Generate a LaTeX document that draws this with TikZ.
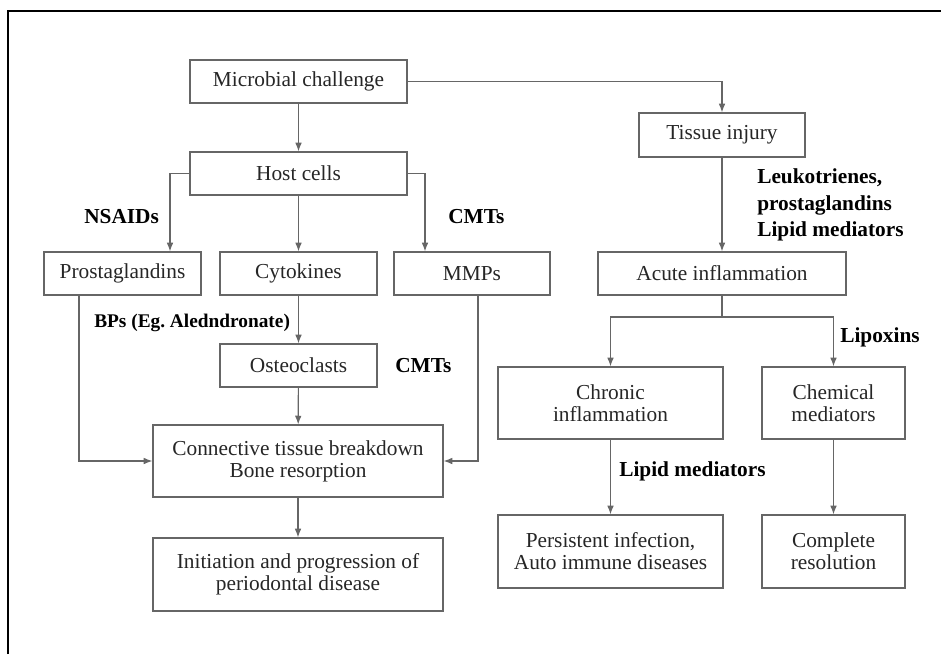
\documentclass[tikz,border=0pt]{standalone}
\usepackage{fontspec}
\setmainfont{Liberation Serif}
\usetikzlibrary{arrows.meta}
\frenchspacing
\tikzset{
  >={Latex[length=6.5pt,width=5pt]},
  box/.style={draw=black!60, line width=0.9pt, text=black!85, align=center, inner sep=0pt},
  lbl/.style={font=\fontsize{16}{20}\selectfont\bfseries, align=left, anchor=west, inner sep=0pt},
  arr/.style={->, draw=black!60, line width=0.9pt}
}

\begin{document}
\begin{tikzpicture}[x=0.75pt,y=-0.75pt,font=\fontsize{16}{16.5}\selectfont]
  \useasboundingbox (0,0) rectangle (941,654);
  \draw[line width=2.2pt] (8,654)--(8,11)--(941,11);

  % left branch
  \node[box, minimum width=162.75pt, minimum height=32.25pt] (micro) at (298.5,81.5) {Microbial challenge};
  \node[box, minimum width=162.75pt, minimum height=32.25pt] (host) at (298.5,173.5) {Host cells};
  \node[box, minimum width=117.75pt, minimum height=32.25pt] (prost) at (122.5,273.5) {Prostaglandins};
  \node[box, minimum width=117.75pt, minimum height=32.25pt] (cyto) at (298.5,273.5) {Cytokines};
  \node[box, minimum width=117pt, minimum height=32.25pt] (mmp) at (472,273.5) {MMPs};
  \node[box, minimum width=117.75pt, minimum height=32.25pt] (osteo) at (298.5,365.5) {Osteoclasts};
  \node[box, minimum width=217.5pt, minimum height=54pt] (conn) at (298,461) {Connective tissue breakdown\\Bone resorption};
  \node[box, minimum width=217.5pt, minimum height=54.75pt] (init) at (298,574.5) {Initiation and progression of\\periodontal disease};

  % right branch
  \node[box, minimum width=124.5pt, minimum height=33pt] (tissue) at (722,135) {Tissue injury};
  \node[box, minimum width=186pt, minimum height=32.25pt] (acute) at (722,273.5) {Acute inflammation};
  \node[box, minimum width=168.75pt, minimum height=54pt] (chronic) at (610.5,403) {Chronic\\inflammation};
  \node[box, minimum width=107.25pt, minimum height=54pt] (chem) at (833.5,403) {Chemical\\mediators};
  \node[box, minimum width=168.75pt, minimum height=54.75pt] (persist) at (610.5,551.5) {Persistent infection,\\Auto immune diseases};
  \node[box, minimum width=107.25pt, minimum height=54.75pt] (resol) at (833.5,551.5) {Complete\\resolution};

  % labels
  \node[lbl] (nsaid) at (84,217) {NSAIDs};
  \node[lbl] (cmta) at (448,217) {CMTs};
  \node[lbl, font=\fontsize{14.5}{20}\selectfont\bfseries] (bps) at (94,323) {BPs (Eg. Aledndronate)};
  \node[lbl] (cmtb) at (395,366) {CMTs};
  \node[lbl] (leuko) at (757,205) {Leukotrienes,\\prostaglandins\\Lipid mediators};
  \node[lbl] (lipox) at (840,337) {Lipoxins};
  \node[lbl] (lipid) at (619,471) {Lipid mediators};

  % bend points
  \coordinate (hl) at (170,0);
  \coordinate (hr) at (425,0);
  \coordinate (pl) at (79,0);
  \coordinate (mr) at (478,0);
  \coordinate (split) at (722,317);

  \draw[arr] (micro)--(host);
  \draw[arr] (micro.east) -| (tissue.north);
  \draw[arr] (host.west) -| (hl |- prost.north);
  \draw[arr] (host)--(cyto);
  \draw[arr] (host.east) -| (hr |- mmp.north);
  \draw[arr] (cyto)--(osteo);
  \draw[arr] (osteo)--(conn);
  \draw[arr] (pl |- prost.south) |- (conn.west);
  \draw[arr] (mr |- mmp.south) |- (conn.east);
  \draw[arr] (conn)--(init);
  \draw[arr] (tissue)--(acute);
  \draw[draw=black!60, line width=0.9pt] (acute.south)--(split);
  \draw[arr] (split) -| (chronic.north);
  \draw[arr] (split) -| (chem.north);
  \draw[arr] (chronic)--(persist);
  \draw[arr] (chem)--(resol);
\end{tikzpicture}
\end{document}
